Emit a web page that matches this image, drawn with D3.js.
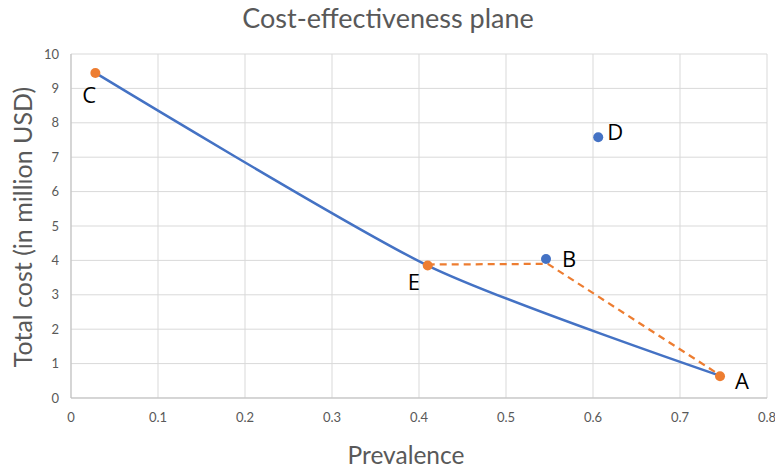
<!DOCTYPE html>
<html><head><meta charset="utf-8">
<script src="https://cdn.jsdelivr.net/npm/d3@7"></script>
<style>body{margin:0;background:#fff}svg{display:block}</style>
</head><body><svg id="c" width="775" height="470"></svg>
<script>
const title = "Cost-effectiveness plane";
const xTicks = [0,0.1,0.2,0.3,0.4,0.5,0.6,0.7,0.8];
const yTicks = [0,1,2,3,4,5,6,7,8,9,10];
// frontier (blue smooth line): C, E, A
const frontierX = [0.028, 0.410, 0.748];
const frontierY = [9.45, 3.85, 0.63];
// dashed orange path: E, B', A
const dashX = [0.410, 0.548, 0.748];
const dashY = [3.88, 3.90, 0.63];
// labelled points
const ptNames = ["C","E","B","D","A"];
const ptX = [0.028, 0.410, 0.546, 0.606, 0.746];
const ptY = [9.45, 3.85, 4.04, 7.58, 0.63];
const ptColor = ["#ED7D31","#ED7D31","#4472C4","#4472C4","#ED7D31"];

const svg = d3.select("#c");
const font = "Lato, 'Open Sans', sans-serif";
const x = d3.scaleLinear().domain([0,0.8]).range([71,767]);
const y = d3.scaleLinear().domain([0,10]).range([398,54]);

svg.append("g").selectAll("line").data(yTicks).join("line")
  .attr("x1",x(0)).attr("x2",x(0.8)).attr("y1",d=>y(d)).attr("y2",d=>y(d))
  .attr("stroke","#d9d9d9").attr("stroke-width",1);
svg.append("g").selectAll("line").data(xTicks).join("line")
  .attr("y1",y(0)).attr("y2",y(10)).attr("x1",d=>x(d)).attr("x2",d=>x(d))
  .attr("stroke","#d9d9d9").attr("stroke-width",1);
svg.append("line").attr("x1",x(0)).attr("x2",x(0.8)).attr("y1",y(0)).attr("y2",y(0)).attr("stroke","#bfbfbf");
svg.append("line").attr("x1",x(0)).attr("x2",x(0)).attr("y1",y(0)).attr("y2",y(10)).attr("stroke","#bfbfbf");

svg.append("g").selectAll("text").data(yTicks).join("text")
  .attr("x",59).attr("y",d=>y(d)+4.5).attr("text-anchor","end")
  .attr("font-family",font).attr("font-size",13).attr("fill","#595959").text(d=>d);
svg.append("g").selectAll("text").data(xTicks).join("text")
  .attr("x",d=>x(d)).attr("y",422).attr("text-anchor","middle")
  .attr("font-family",font).attr("font-size",13).attr("fill","#595959").text(d=>d);

svg.append("text").attr("x",388).attr("y",28).attr("text-anchor","middle")
  .attr("font-family",font).attr("font-size",27).attr("fill","#595959").text(title);
svg.append("text").attr("x",406).attr("y",464).attr("text-anchor","middle")
  .attr("font-family",font).attr("font-size",24.5).attr("fill","#595959").text("Prevalence");
svg.append("text").attr("transform","translate(32,227) rotate(-90)").attr("text-anchor","middle")
  .attr("font-family",font).attr("font-size",25).attr("fill","#595959").text("Total cost (in million USD)");

const line = d3.line().x(d=>x(d[0])).y(d=>y(d[1]));
svg.append("path").datum(dashX.map((v,i)=>[v,dashY[i]]))
  .attr("d",line.curve(d3.curveLinear)).attr("fill","none").attr("stroke","#ED7D31")
  .attr("stroke-width",2.25).attr("stroke-dasharray","7,5");
svg.append("path").datum(frontierX.map((v,i)=>[v,frontierY[i]]))
  .attr("d",d3.line().x(d=>x(d[0])).y(d=>y(d[1])).curve(d3.curveCardinal.tension(0.3)))
  .attr("fill","none").attr("stroke","#4472C4").attr("stroke-width",2.5);

svg.append("g").selectAll("circle").data(ptNames).join("circle")
  .attr("cx",(d,i)=>x(ptX[i])).attr("cy",(d,i)=>y(ptY[i])).attr("r",5)
  .attr("fill",(d,i)=>ptColor[i]);

const lblOff = {C:[-13,30],E:[-20,24],B:[16,8],D:[9,3],A:[15,13]};
svg.append("g").selectAll("text").data(ptNames).join("text")
  .attr("x",(d,i)=>x(ptX[i])+lblOff[d][0]).attr("y",(d,i)=>y(ptY[i])+lblOff[d][1])
  .attr("font-family","'Open Sans', sans-serif").attr("font-size",22).attr("fill","#000").text(d=>d);
</script></body></html>
